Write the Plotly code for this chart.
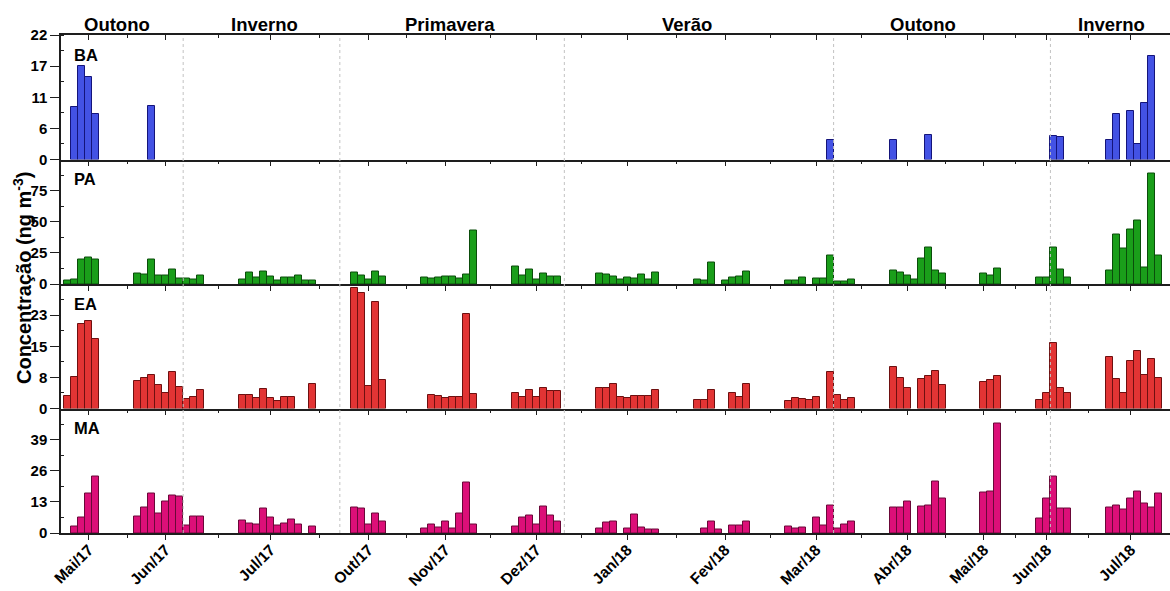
import plotly.graph_objects as go

# ---- x axis: sample sequence, month ticks and seasons ----
months = ["Mai/17", "Jun/17", "Jul/17", "Out/17", "Nov/17", "Dez/17", "Jan/18",
          "Fev/18", "Mar/18", "Abr/18", "Mai/18", "Jun/18", "Jul/18"]
month_pos = [3, 14, 29, 43, 54, 67, 80, 94, 107, 120, 131, 140, 152]
seasons = ["Outono", "Inverno", "Primavera", "Verão", "Outono", "Inverno"]
season_center = [7.1, 28.1, 54.7, 88.5, 122.3, 149.2]
season_breaks = [16.5, 38.9, 71, 109.5, 140.5]

# ---- concentrations (ng m-3) per sample index ----
ba_idx = [1, 2, 3, 4, 12, 109, 118, 123, 141, 142, 149, 150, 152, 153, 154, 155]
ba_val = [9.2, 16.6, 14.5, 8.0, 9.4, 3.4, 3.4, 4.4, 4.1, 3.9, 3.4, 8.1, 8.6, 2.8, 9.9, 18.3]

pa_idx = [0, 1, 2, 3, 4,
          10, 11, 12, 13, 14, 15, 16, 17, 18, 19,
          25, 26, 27, 28, 29, 30, 31, 32, 33, 34, 35,
          41, 42, 43, 44, 45,
          51, 52, 53, 54, 55, 56, 57, 58,
          64, 65, 66, 67, 68, 69, 70,
          76, 77, 78, 79, 80, 81, 82, 83, 84,
          90, 91, 92, 94, 95, 96, 97,
          103, 104, 105, 107, 108, 109, 110, 111, 112,
          118, 119, 120, 121, 122, 123, 124, 125,
          131, 132, 133,
          139, 140, 141, 142, 143,
          149, 150, 151, 152, 153, 154, 155, 156]
pa_val = [2.7, 4.0, 19.5, 21.6, 19.5,
          8.8, 8.0, 19.5, 6.9, 6.9, 11.5, 4.5, 4.5, 3.5, 7.2,
          3.5, 9.6, 5.3, 10.4, 6.1, 3.2, 5.3, 5.3, 6.9, 2.7, 2.7,
          9.6, 6.9, 3.5, 10.4, 6.1,
          5.3, 4.5, 5.3, 6.1, 6.1, 4.5, 8.0, 42.7,
          14.1, 7.2, 12.0, 3.5, 8.8, 6.1, 6.1,
          8.8, 8.0, 6.1, 3.5, 5.3, 4.5, 8.0, 3.5, 9.6,
          3.5, 2.7, 17.3, 2.7, 5.3, 6.1, 10.4,
          2.7, 2.7, 5.3, 4.3, 4.3, 22.7, 2.4, 2.4, 3.7,
          10.7, 9.6, 6.9, 3.5, 20.8, 29.6, 10.7, 8.8,
          8.8, 6.9, 12.3,
          5.3, 5.3, 29.6, 11.5, 5.3,
          10.7, 39.7, 28.8, 43.5, 50.9, 13.1, 88.8, 22.7]

ea_idx = [0, 1, 2, 3, 4,
          10, 11, 12, 13, 14, 15, 16, 17, 18, 19,
          25, 26, 27, 28, 29, 30, 31, 32, 35,
          41, 42, 43, 44, 45,
          52, 53, 54, 55, 56, 57, 58,
          64, 65, 66, 67, 68, 69, 70,
          76, 77, 78, 79, 80, 81, 82, 83, 84,
          90, 91, 92, 95, 96, 97,
          103, 104, 105, 106, 107, 109, 110, 111, 112,
          118, 119, 120, 122, 123, 124, 125,
          131, 132, 133,
          139, 140, 141, 142, 143,
          149, 150, 151, 152, 153, 154, 155, 156]
ea_val = [3.2, 7.75, 20.7, 21.5, 17.2,
          6.7, 7.4, 8.25, 5.8, 3.7, 9.1, 5.3, 2.3, 2.9, 4.6,
          3.4, 3.4, 2.7, 4.8, 2.7, 1.8, 2.9, 2.9, 6.1,
          29.8, 28.4, 5.5, 26.3, 6.9,
          3.3, 3.1, 2.6, 2.8, 2.8, 23.3, 3.6,
          3.8, 2.8, 4.5, 2.8, 5.0, 4.2, 4.2,
          5.0, 5.0, 6.0, 2.8, 2.6, 3.1, 3.1, 3.1, 4.5,
          2.1, 2.1, 4.5, 3.7, 2.8, 6.1,
          1.8, 2.6, 2.3, 2.1, 2.8, 9.1, 3.3, 2.0, 2.6,
          10.3, 7.4, 5.1, 7.2, 8.0, 9.3, 5.8,
          6.6, 6.9, 7.9,
          2.1, 3.7, 16.1, 5.1, 3.9,
          12.8, 7.25, 3.7, 11.75, 14.25, 8.25, 12.1, 7.5]

ma_idx = [1, 2, 3, 4,
          10, 11, 12, 13, 14, 15, 16, 17, 18, 19,
          25, 26, 27, 28, 29, 30, 31, 32, 33, 35,
          41, 42, 43, 44, 45,
          51, 52, 53, 54, 55, 56, 57, 58,
          64, 65, 66, 67, 68, 69, 70,
          76, 77, 78, 80, 81, 82, 83, 84,
          91, 92, 93, 95, 96, 97,
          103, 104, 105, 107, 108, 109, 110, 111, 112,
          118, 119, 120, 122, 123, 124, 125,
          131, 132, 133,
          139, 140, 141, 142, 143,
          149, 150, 151, 152, 153, 154, 155, 156]
ma_val = [2.7, 6.3, 16.3, 23.4,
          6.7, 10.8, 16.7, 8.1, 13.0, 15.7, 15.3, 3.1, 6.7, 6.7,
          5.3, 3.9, 3.5, 10.4, 6.3, 3.1, 3.9, 5.75, 3.5, 2.7,
          10.8, 10.4, 3.5, 8.1, 4.9,
          1.8, 3.5, 2.2, 4.9, 1.8, 8.1, 21.3, 3.5,
          2.7, 6.3, 7.2, 3.5, 11.2, 7.2, 4.9,
          1.8, 4.5, 4.9, 1.8, 7.7, 2.2, 1.3, 1.3,
          1.8, 4.9, 1.3, 3.1, 3.1, 4.9,
          2.7, 1.8, 2.2, 6.3, 3.1, 11.6, 1.8, 3.5, 4.9,
          10.8, 10.8, 13.0, 11.2, 11.6, 21.7, 14.4,
          17.1, 17.5, 45.7,
          5.9, 14.4, 23.8, 10.4, 10.4,
          10.8, 11.6, 10.0, 14.4, 17.5, 12.2, 10.8, 16.3]

# y scales: axis top and tick labels of each panel
ba_ticks, ba_labels, ba_top = [0, 5.5, 11, 16.5, 22], ["0", "6", "11", "17", "22"], 22
pa_ticks, pa_labels, pa_top = [0, 25, 50, 75], ["0", "25", "50", "75"], 100
ea_ticks, ea_labels, ea_top = [0, 23 / 3, 46 / 3, 23], ["0", "8", "15", "23"], 92 / 3
ma_ticks, ma_labels, ma_top = [0, 13, 26, 39], ["0", "13", "26", "39"], 52

panels = [
    ("BA", ba_idx, ba_val, ba_ticks, ba_labels, ba_top, "#4352e4", "#14147a"),
    ("PA", pa_idx, pa_val, pa_ticks, pa_labels, pa_top, "#1a9e1a", "#0b4d0b"),
    ("EA", ea_idx, ea_val, ea_ticks, ea_labels, ea_top, "#e23434", "#6e1010"),
    ("MA", ma_idx, ma_val, ma_ticks, ma_labels, ma_top, "#dc0f78", "#6a0838"),
]

FONT = "Liberation Sans, Arial, sans-serif"
AX = "#1e1e1e"
X_RANGE = [-0.97, 157.6]
minor_x = [(a + b) / 2 for a, b in zip(month_pos[:-1], month_pos[1:])]

fig = go.Figure()
n = len(panels)
layout = {}
for i, (name, idx, val, ticks, labels, top, fill, edge) in enumerate(panels):
    k = i + 1
    sfx = "" if k == 1 else str(k)
    fig.add_trace(go.Bar(
        x=idx, y=val, width=1, name=name,
        xaxis="x" + sfx, yaxis="y" + sfx,
        marker=dict(color=fill, line=dict(color=edge, width=1)),
        showlegend=False,
    ))
    d0 = (n - k) / n
    d1 = (n - k + 1) / n
    minor_y = [(a + b) / 2 for a, b in zip(ticks, ticks[1:] + [top])]
    layout["xaxis" + sfx] = dict(
        domain=[0, 1], anchor="y" + sfx, range=X_RANGE, automargin=False,
        showline=True, linecolor=AX, linewidth=1.5,
        tickmode="array", tickvals=month_pos, ticktext=months,
        showticklabels=(k == n), tickangle=-45, ticklabelstandoff=-5,
        ticks="outside", ticklen=5, tickwidth=1.3, tickcolor=AX,
        minor=dict(tickmode="array", tickvals=minor_x, ticks="outside",
                   ticklen=3, tickwidth=1, tickcolor=AX),
        showgrid=False, zeroline=False,
        tickfont=dict(family=FONT, size=15.5, color="black", weight="bold"),
    )
    layout["yaxis" + sfx] = dict(
        domain=[d0, d1], anchor="x" + sfx, range=[0, top], automargin=False,
        showline=True, linecolor=AX, linewidth=1.5,
        tickmode="array", tickvals=ticks, ticktext=labels,
        ticks="outside", ticklen=9, tickwidth=1.3, tickcolor=AX,
        minor=dict(tickmode="array", tickvals=minor_y, ticks="inside",
                   ticklen=3, tickwidth=1, tickcolor=AX),
        showgrid=False, zeroline=False,
        tickfont=dict(family=FONT, size=15, color="black", weight="bold"),
    )

# frame line along the top of the first panel, ticks pointing inwards
layout["xaxis5"] = dict(
    overlaying="x", side="top", anchor="y", range=X_RANGE, automargin=False,
    showline=True, linecolor=AX, linewidth=1.5,
    tickmode="array", tickvals=month_pos, showticklabels=False,
    ticks="inside", ticklen=5, tickwidth=1.3, tickcolor=AX,
    minor=dict(tickmode="array", tickvals=minor_x, ticks="inside",
               ticklen=3, tickwidth=1, tickcolor=AX),
    showgrid=False, zeroline=False,
)
fig.add_trace(go.Scatter(x=[None], y=[None], xaxis="x5", yaxis="y",
                         showlegend=False, hoverinfo="skip"))

# dashed season boundaries across all panels
shapes = [dict(type="line", xref="x", yref="paper", x0=b, x1=b, y0=0, y1=1,
               line=dict(color="#c2c2c2", width=1, dash="3px,3px"), layer="above")
          for b in season_breaks]

annotations = []
for s, c in zip(seasons, season_center):
    annotations.append(dict(text=s, x=c, xref="x", y=1, yref="paper",
                            yanchor="middle", yshift=11, showarrow=False,
                            font=dict(family=FONT, size=18.5, color="black", weight="bold")))
for i, p in enumerate(panels):
    sfx = "" if i == 0 else str(i + 1)
    annotations.append(dict(text=p[0], x=0.65, xref="x" + sfx, xanchor="left",
                            y=0.84, yref="y" + sfx + " domain", yanchor="middle",
                            showarrow=False,
                            font=dict(family=FONT, size=16.5, color="black", weight="bold")))
annotations.append(dict(text="Concentração (ng m<sup>-3</sup>)", textangle=-90,
                        x=0, xref="paper", xanchor="center", xshift=-39,
                        y=0.512, yref="paper", yanchor="middle",
                        showarrow=False,
                        font=dict(family=FONT, size=20, color="black", weight="bold")))

fig.update_layout(
    **layout,
    width=1170, height=591,
    margin=dict(l=61, r=0, t=35, b=58, autoexpand=False),
    paper_bgcolor="white", plot_bgcolor="white",
    shapes=shapes, annotations=annotations,
    bargap=0,
)

fig.write_html("out.html")
